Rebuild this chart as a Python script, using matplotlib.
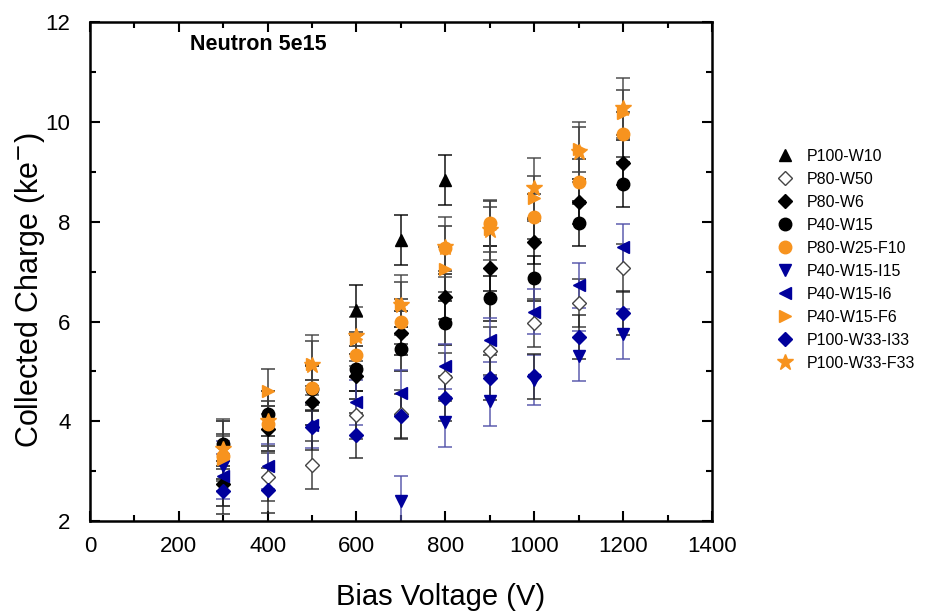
import matplotlib
matplotlib.use("Agg")
import matplotlib.pyplot as plt
from matplotlib.ticker import MultipleLocator

plt.rcParams['font.family'] = ['Liberation Sans', 'DejaVu Sans']

voltages = [300, 400, 500, 600, 700, 800, 900, 1000, 1100, 1200]

p100_w10_v = [600, 700, 800]
p100_w10 = [6.23, 7.63, 8.83]
p80_w50_v = [400, 500, 600, 700, 800, 900, 1000, 1100, 1200]
p80_w50 = [2.88, 3.12, 4.13, 4.15, 4.88, 5.40, 5.97, 6.37, 7.07]
p80_w6 = [2.75, 3.85, 4.38, 4.90, 5.77, 6.50, 7.07, 7.60, 8.40, 9.18]
p40_w15 = [3.55, 4.15, 4.65, 5.05, 5.45, 5.97, 6.47, 6.87, 7.97, 8.75]
p80_w25_f10 = [3.30, 3.95, 4.67, 5.33, 6.00, 7.47, 7.97, 8.10, 8.80, 9.75]
p40_w15_i15_v = [300, 700, 800, 900, 1000, 1100, 1200]
p40_w15_i15 = [3.10, 2.40, 3.98, 4.40, 4.82, 5.30, 5.75]
p40_w15_i6 = [2.90, 3.10, 3.92, 4.38, 4.57, 5.10, 5.63, 6.20, 6.73, 7.50]
p40_w15_f6 = [3.25, 4.60, 5.15, 5.65, 6.35, 7.05, 7.85, 8.47, 9.45, 10.18]
p100_w33_i33 = [2.60, 2.62, 3.88, 3.72, 4.10, 4.46, 4.87, 4.90, 5.69, 6.17]
p100_w33_f33 = [3.45, 4.00, 5.13, 5.70, 6.33, 7.50, 7.83, 8.67, 9.40, 10.28]

orange = '#F7931E'
navy = '#00009C'

series = [
    ('P100-W10', p100_w10_v, p100_w10, dict(marker='^', color='black', mfc='black', mec='black'), 'black', 0.5),
    ('P80-W50', p80_w50_v, p80_w50, dict(marker='D', color='#555555', mfc='white', mec='#444444', ms=7.5), '#333333', 0.48),
    ('P80-W6', voltages, p80_w6, dict(marker='D', color='black', mfc='black', mec='black', ms=7.5), 'black', 0.45),
    ('P40-W15', voltages, p40_w15, dict(marker='o', color='black', mfc='black', mec='black'), 'black', 0.45),
    ('P80-W25-F10', voltages, p80_w25_f10, dict(marker='o', color=orange, mfc=orange, mec=orange), '#222222', 0.45),
    ('P40-W15-I15', p40_w15_i15_v, p40_w15_i15, dict(marker='v', color=navy, mfc=navy, mec=navy), '#5050A8', 0.5),
    ('P40-W15-I6', voltages, p40_w15_i6, dict(marker='<', color=navy, mfc=navy, mec=navy), '#5050A8', 0.45),
    ('P40-W15-F6', voltages, p40_w15_f6, dict(marker='>', color=orange, mfc=orange, mec=orange), '#333333', 0.45),
    ('P100-W33-I33', voltages, p100_w33_i33, dict(marker='D', color=navy, mfc=navy, mec=navy, ms=7.5), '#222222', 0.45),
    ('P100-W33-F33', voltages, p100_w33_f33, dict(marker='*', color=orange, mfc=orange, mec=orange, ms=12), '#444444', 0.6),
]

fig = plt.figure(figsize=(9.27, 6.11), dpi=100)
ax = fig.add_axes([0.097, 0.147, 0.671, 0.817])

handles = []
for name, xs, ys, mk, ecol, err in series:
    ax.errorbar(xs, ys, yerr=err, fmt='none', ecolor=ecol, elinewidth=1.2,
                capsize=5, capthick=1.2, alpha=0.85, zorder=2)
    kw = dict(mk)
    ms = kw.pop('ms', 9)
    h, = ax.plot(xs, ys, linestyle='none', markersize=ms, label=name, zorder=3, **kw)
    handles.append(h)

ax.set_xlim(0, 1400)
ax.set_ylim(2, 12)
ax.xaxis.set_major_locator(MultipleLocator(200))
ax.xaxis.set_minor_locator(MultipleLocator(100))
ax.yaxis.set_major_locator(MultipleLocator(2))
ax.yaxis.set_minor_locator(MultipleLocator(1))
ax.tick_params(which='both', direction='in', top=True, right=True, width=1.5)
ax.tick_params(which='major', length=7, labelsize=16)
ax.tick_params(axis='x', which='major', pad=11)
ax.tick_params(axis='y', which='major', pad=14)
ax.tick_params(which='minor', length=4)
for s in ax.spines.values():
    s.set_linewidth(1.8)

ax.set_xlabel('Bias Voltage (V)', fontsize=21, va='center')
ax.xaxis.set_label_coords(0.563, -0.152)
ax.set_ylabel('Collected Charge (ke$^{-}$)', fontsize=22, va='center')
ax.yaxis.set_label_coords(-0.097, 0.463)
ax.text(225, 11.55, 'Neutron 5e15', fontsize=15.5, fontweight='bold', va='center', ha='left')

fig.legend(handles=handles, loc='center left', bbox_to_anchor=(0.838, 0.575),
           frameon=False, fontsize=11.5, handletextpad=0.9, labelspacing=0.5,
           handlelength=1.0, borderaxespad=0, borderpad=0)

fig.savefig('out.png', dpi=100)
